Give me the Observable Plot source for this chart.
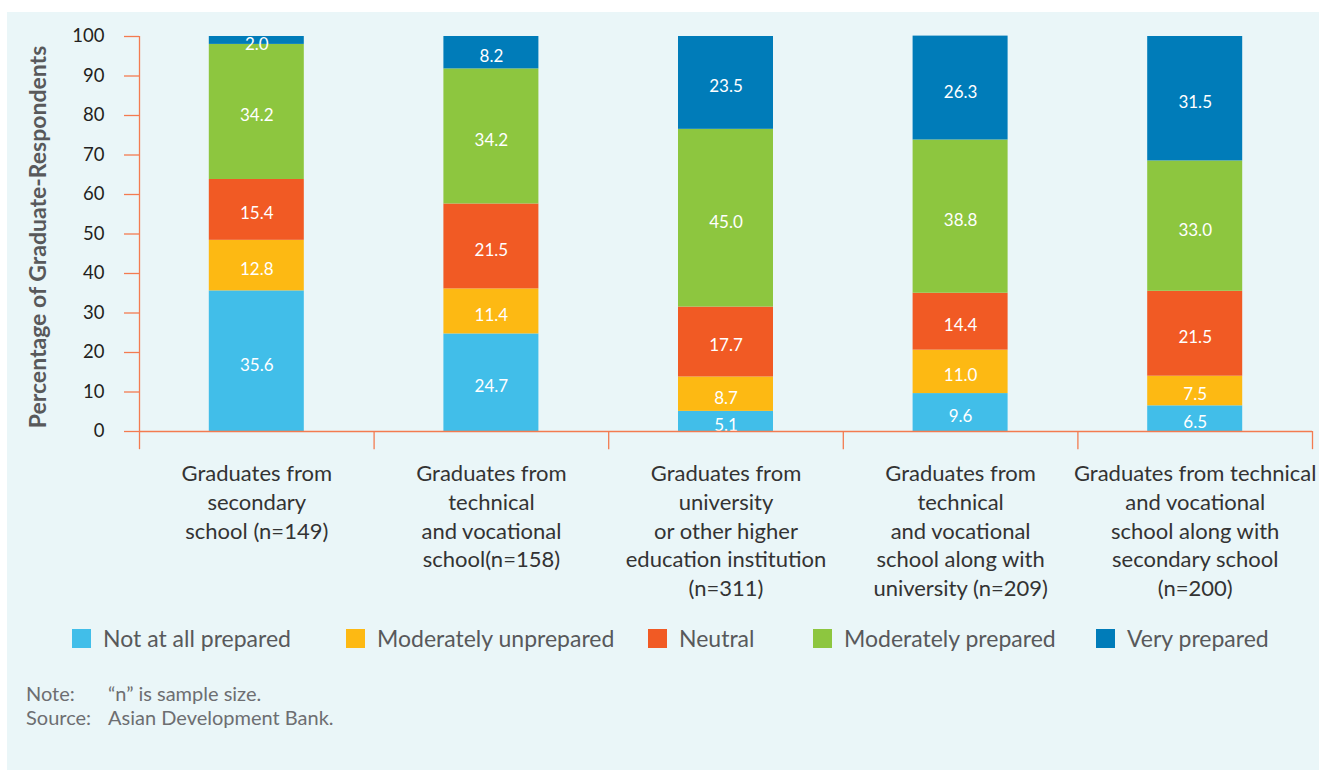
<!DOCTYPE html>
<html>
<head>
<meta charset="utf-8">
<script src="https://cdn.jsdelivr.net/npm/d3@7"></script>
<script src="https://cdn.jsdelivr.net/npm/@observablehq/plot@0.6"></script>
<style>
  html, body { margin: 0; padding: 0; background: #ffffff; }
  body { width: 1319px; height: 770px; position: relative; overflow: hidden; font-family: Lato, "Open Sans", sans-serif; }
  #panel { position: absolute; left: 7px; top: 12px; width: 1312px; height: 758px; background: #eaf6f8; }
  #chart { position: absolute; left: 0; top: 0; }
  #legend { position: absolute; left: 0; top: 613px; width: 1312px; height: 26px; }
  .item { position: absolute; top: 0; display: flex; align-items: center; height: 26px; font-size: 23px; color: #58595b; white-space: nowrap; }
  .sw { width: 19px; height: 19px; margin-right: 12px; flex: none; }
  #notes { position: absolute; left: 19px; top: 669px; font-size: 20px; line-height: 24px; color: #6d6e71; }
  #notes .row { display: flex; }
  #notes .k { width: 82px; }
</style>
</head>
<body>
<div id="panel">
  <div id="chart"></div>
  <div id="legend"></div>
  <div id="notes"></div>
</div>
<script>
// ---- Data ----
const categories = ["Secondary", "TVET", "University", "TVET + University", "TVET + Secondary"];
const tickLabels = [
  "Graduates from\nsecondary\nschool (n=149)",
  "Graduates from\ntechnical\nand vocational\nschool(n=158)",
  "Graduates from\nuniversity\nor other higher\neducation institution\n(n=311)",
  "Graduates from\ntechnical\nand vocational\nschool along with\nuniversity (n=209)",
  "Graduates from technical\nand vocational\nschool along with\nsecondary school\n(n=200)"
];
const series = ["Not at all prepared", "Moderately unprepared", "Neutral", "Moderately prepared", "Very prepared"];
const notAtAllPrepared     = [35.6, 24.7, 5.1, 9.6, 6.5];
const moderatelyUnprepared = [12.8, 11.4, 8.7, 11.0, 7.5];
const neutral              = [15.4, 21.5, 17.7, 14.4, 21.5];
const moderatelyPrepared   = [34.2, 34.2, 45.0, 38.8, 33.0];
const veryPrepared         = [2.0, 8.2, 23.5, 26.3, 31.5];
const yTicks = [0, 10, 20, 30, 40, 50, 60, 70, 80, 90, 100];
const yTitle = "Percentage of Graduate-Respondents";
const notes = [["Note:", "\u201cn\u201d is sample size."], ["Source:", "Asian Development Bank."]];

const colors = ["#41bee9", "#fdb913", "#f15a24", "#8dc63f", "#007cb9"];
const axisColor = "#f37b50";

// ---- Table ----
const seriesValues = [notAtAllPrepared, moderatelyUnprepared, neutral, moderatelyPrepared, veryPrepared];
const table = [];
series.forEach((s, i) => categories.forEach((c, j) => table.push({series: s, category: c, value: seriesValues[i][j]})));

// ---- Layout ----
const W = 1312, H = 600;
const mL = 132, mR = 7, mT = 24, mB = 181;
const step = (W - mL - mR) / categories.length;
const barW = 95;
const inset = (step - barW) / 2;
const font = "Lato, 'Open Sans', sans-serif";

const chart = Plot.plot({
  width: W,
  height: H,
  marginLeft: mL,
  marginRight: mR,
  marginTop: mT,
  marginBottom: mB,
  style: {background: "transparent", fontFamily: font, overflow: "visible"},
  x: {domain: categories, padding: 0, round: false, label: null},
  y: {domain: [0, 100], label: null},
  color: {domain: series, range: colors},
  marks: [
    Plot.barY(table, Plot.stackY({x: "category", y: "value", fill: "series", order: series, insetLeft: inset, insetRight: inset})),
    Plot.text(table, Plot.stackY({x: "category", y: "value", z: "series", order: series,
      text: d => d.value.toFixed(1), fill: "white", fontSize: 17, dy: 4, fontFamily: font})),
    // baseline
    Plot.ruleY([0], {stroke: axisColor, strokeWidth: 1.3}),
    // y axis line
    Plot.ruleX([categories[0]], {dx: -step / 2, y1: 0, y2: 100, stroke: axisColor, strokeWidth: 1.3}),
    // category boundary ticks below the baseline
    Plot.ruleX(categories, {dx: -step / 2, y1: 0, y2: -4.6, stroke: axisColor, strokeWidth: 1.3, clip: false}),
    Plot.ruleX([categories[categories.length - 1]], {dx: step / 2, y1: 0, y2: -4.6, stroke: axisColor, strokeWidth: 1.3, clip: false}),
    Plot.axisY({ticks: yTicks, tickSize: 15, tickPadding: 20, stroke: axisColor, strokeWidth: 1.3, fill: "#231f20", fontSize: 18.5, label: null}),
    Plot.axisX({tickSize: 0, tickPadding: 29, tickFormat: (d, i) => tickLabels[categories.indexOf(d)], fill: "#333333",
      fontSize: 22, lineHeight: 1.31, label: null}),
    Plot.text([yTitle], {frameAnchor: "left", textAnchor: "middle", rotate: -90, dx: -101, dy: 3, text: d => d, fill: "#58595b",
      fontSize: 23, fontWeight: 700, fontFamily: font})
  ]
});
document.getElementById("chart").appendChild(chart);

// ---- Legend ----
const legendX = [65, 339, 641, 806, 1089];
const legend = document.getElementById("legend");
series.forEach((s, i) => {
  const item = document.createElement("div");
  item.className = "item";
  item.style.left = legendX[i] + "px";
  const sw = document.createElement("span");
  sw.className = "sw";
  sw.style.background = colors[i];
  const t = document.createElement("span");
  t.textContent = s;
  item.appendChild(sw);
  item.appendChild(t);
  legend.appendChild(item);
});

// ---- Notes ----
const notesDiv = document.getElementById("notes");
notes.forEach(([k, v]) => {
  const row = document.createElement("div");
  row.className = "row";
  const a = document.createElement("span"); a.className = "k"; a.textContent = k;
  const b = document.createElement("span"); b.textContent = v;
  row.appendChild(a); row.appendChild(b);
  notesDiv.appendChild(row);
});
</script>
</body>
</html>
